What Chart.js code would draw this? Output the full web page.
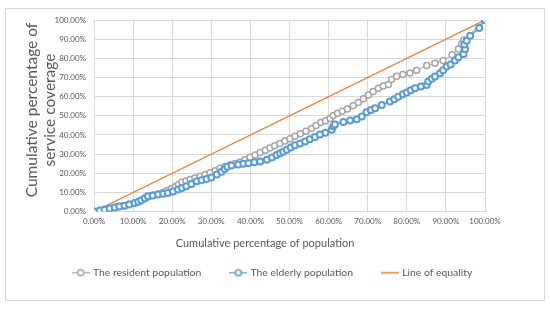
<!DOCTYPE html>
<html><head><meta charset="utf-8">
<script src="https://cdn.jsdelivr.net/npm/chart.js@4/dist/chart.umd.min.js"></script>
<style>html,body{margin:0;padding:0;background:#fff}#wrap{width:550px;height:310px;position:relative}</style>
</head><body><div id="wrap"><canvas id="c" width="550" height="310"></canvas></div>
<script>
// ---- data (percent) ----
const seriesNames = ['The resident population', 'The elderly population', 'Line of equality'];
const residentPopX = [0,1.5,3.0,4.5,6.0,7.5,9.0,10.5,12.0,13.0,14.0,15.2,16.4,17.6,18.7,19.8,20.8,21.6,22.5,23.5,24.6,25.8,27.1,28.4,29.7,31.0,32.2,33.5,34.8,36.0,37.3,38.6,39.9,41.2,42.5,43.8,45.0,46.2,47.5,48.8,50.1,51.4,52.8,54.2,55.6,56.8,58.0,59.2,60.4,61.2,62.3,63.5,64.8,66.3,67.6,68.9,70.2,71.4,72.7,74.0,75.3,76.1,77.4,79.0,80.8,82.5,85.1,87.2,89.3,91.6,93.2,94.0,94.6,100];
const residentCovY = [0,0.6,1.2,1.8,2.5,3.2,3.9,4.6,5.6,6.8,7.8,8.5,9.2,10.0,11.0,12.0,13.1,14.2,15.3,16.0,16.8,17.5,18.4,19.4,20.3,21.3,22.6,23.6,24.3,25.0,25.8,27.0,28.4,29.6,30.9,32.0,33.2,34.4,35.6,36.8,38.0,39.3,40.6,41.9,43.4,45.0,46.5,47.4,48.6,50.2,51.3,52.4,53.6,55.2,57.0,58.9,60.8,62.7,64.4,65.6,66.4,69.0,70.6,71.5,72.4,73.8,76.3,77.4,78.8,81.8,84.9,87.5,89.6,100];
const elderlyPopX = [0,1.5,2.7,4.0,5.3,6.5,7.8,9.0,10.4,11.3,12.1,13.0,13.8,15.0,16.4,17.7,18.9,20.2,21.5,22.5,23.6,24.9,26.3,27.5,28.8,30.0,31.4,32.6,33.4,34.1,35.2,36.9,38.2,39.5,41.0,42.5,44.2,45.5,46.7,47.6,48.4,49.3,50.3,51.4,52.7,54.0,55.2,56.5,57.8,59.2,60.8,61.2,61.6,63.8,65.5,67.2,68.5,69.7,70.8,71.9,73.6,75.7,76.8,77.8,79.0,80.0,81.0,82.1,83.6,85.1,85.5,86.4,87.2,88.5,89.3,90.2,91.2,92.3,93.2,94.5,94.9,94.7,95.3,96.2,98.5,100];
const elderlyCovY = [0,0.6,1.0,1.6,2.2,2.7,3.1,3.7,4.5,5.1,5.9,7.0,8.0,8.4,8.9,9.3,9.7,10.5,11.5,12.3,13.2,14.4,15.8,16.4,17.0,17.8,19.3,20.8,22.2,23.4,24.0,24.6,25.0,25.3,25.7,26.2,27.1,28.2,29.5,30.4,31.3,32.3,33.4,34.6,35.6,36.6,37.8,39.0,40.2,41.2,42.7,44.5,45.5,46.8,47.6,48.2,49.6,51.8,53.0,54.0,55.7,57.4,58.6,60.0,61.2,62.1,63.3,64.4,65.3,66.1,67.9,69.3,70.5,72.2,73.8,75.7,76.8,78.8,80.6,82.3,84.9,87.2,89.2,91.8,95.8,100];
const equalityX = [0,100];
const equalityY = [0,100];
const tickValues = [0,10,20,30,40,50,60,70,80,90,100];
const xTitle = 'Cumulative percentage of population';
const yTitle = ['Cumulative percentage of', 'service coverage'];

const FONT = 'Lato, "Noto Sans", sans-serif';
const GRAY = '#A5A5A5', BLUE = '#5B9BD5', ORANGE = '#ED7D31', TXT = '#595959', GRID = '#D9D9D9';
const toPts = (xs, ys) => xs.map((x, i) => ({x, y: ys[i]}));

function legendIcon(color, marker) {
  const c = document.createElement('canvas');
  c.width = 18; c.height = 9;
  const g = c.getContext('2d');
  g.strokeStyle = color; g.lineWidth = marker ? 1.2 : 1.5;
  g.beginPath(); g.moveTo(0, 4.5); g.lineTo(18, 4.5); g.stroke();
  if (marker) {
    g.fillStyle = '#fff'; g.lineWidth = 1.5;
    g.beginPath(); g.arc(9, 4.5, 3, 0, Math.PI * 2); g.fill(); g.stroke();
  }
  return c;
}
const icons = [legendIcon(GRAY, true), legendIcon(BLUE, true), legendIcon(ORANGE, false)];

const titlesPlugin = {
  id: 'titles',
  beforeDraw(chart) {
    const ctx = chart.ctx;
    ctx.save();
    ctx.strokeStyle = GRID; ctx.lineWidth = 1;
    ctx.strokeRect(5.5, 8.5, 539, 292);
    ctx.restore();
  },
  afterDraw(chart) {
    const ctx = chart.ctx;
    ctx.save();
    ctx.fillStyle = TXT;
    ctx.textAlign = 'center'; ctx.textBaseline = 'middle';
    ctx.font = '11px ' + FONT;
    ctx.fillText(xTitle, 265, 243);
    ctx.translate(41, 110);
    ctx.rotate(-Math.PI / 2);
    ctx.font = '15.5px ' + FONT;
    ctx.fillText(yTitle[0], 0, -9);
    ctx.fillText(yTitle[1], 0, 9);
    ctx.restore();
  }
};

const tickFmt = v => Number(v).toFixed(2) + '%';

new Chart(document.getElementById('c'), {
  type: 'scatter',
  data: {
    datasets: [
      {label: seriesNames[0], data: toPts(residentPopX, residentCovY), showLine: true, borderColor: GRAY, borderWidth: 1, pointRadius: 3, pointBorderWidth: 1.5, pointBackgroundColor: '#fff', pointBorderColor: GRAY, order: 2},
      {label: seriesNames[1], data: toPts(elderlyPopX, elderlyCovY), showLine: true, borderColor: BLUE, borderWidth: 1.5, pointRadius: 3, pointBorderWidth: 2, pointBackgroundColor: '#fff', pointBorderColor: BLUE, order: 1},
      {label: seriesNames[2], data: toPts(equalityX, equalityY), showLine: true, borderColor: ORANGE, borderWidth: 1.3, pointRadius: 0, order: 3}
    ]
  },
  options: {
    responsive: false, animation: false,
    layout: {padding: {left: 6, right: 10, top: 20, bottom: 22}},
    scales: {
      x: {type: 'linear', min: 0, max: 100,
        afterBuildTicks: s => { s.ticks = tickValues.map(v => ({value: v})); },
        ticks: {callback: tickFmt, font: {family: FONT, size: 8}, color: TXT, padding: 5, maxRotation: 0, autoSkip: false},
        grid: {color: GRID, drawTicks: false}, border: {color: GRID},
        afterFit: s => { s.height = 26; }},
      y: {min: 0, max: 100,
        afterBuildTicks: s => { s.ticks = tickValues.map(v => ({value: v})); },
        ticks: {callback: tickFmt, font: {family: FONT, size: 8}, color: TXT, padding: 8},
        grid: {color: GRID, drawTicks: false}, border: {color: GRID},
        afterFit: s => { s.width = 88; }},
      yPad: {position: 'right', min: 0, max: 100, display: true,
        ticks: {display: false}, grid: {display: false, drawTicks: false}, border: {display: false},
        afterFit: s => { s.width = 55; }}
    },
    plugins: {
      legend: {position: 'bottom',
        labels: {usePointStyle: true, pointStyleWidth: 14, padding: 30, color: TXT, font: {family: FONT, size: 10.4},
          sort: (a, b) => a.datasetIndex - b.datasetIndex,
          generateLabels: chart => Chart.defaults.plugins.legend.labels.generateLabels(chart).map(it => Object.assign(it, {pointStyle: icons[it.datasetIndex], lineWidth: 0}))}},
      tooltip: {enabled: false}
    }
  },
  plugins: [titlesPlugin]
});
</script></body></html>
